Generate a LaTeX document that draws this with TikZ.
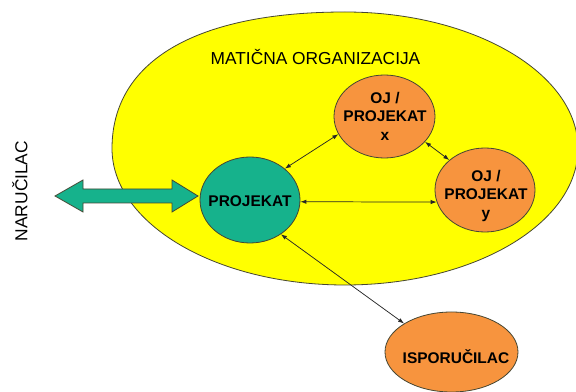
\documentclass[tikz,border=0pt]{standalone}
\usepackage{fontspec}
\setmainfont{Liberation Sans}
\usetikzlibrary{arrows.meta,shapes.geometric}
\definecolor{tealfill}{RGB}{22,178,140}
\definecolor{orangefill}{RGB}{247,148,62}
\definecolor{yellowfill}{RGB}{255,255,0}
\definecolor{outlinec}{RGB}{70,70,50}
\begin{document}
\begin{tikzpicture}[x=0.75pt,y=-0.75pt,
  outl/.style={draw=outlinec, line width=0.6pt},
  ell/.style={ellipse, outl, inner sep=0pt},
  tealell/.style={ell, fill=tealfill},
  orangeell/.style={ell, fill=orangefill},
  boldtxt/.style={font=\bfseries\fontsize{11.6}{13.8}\selectfont, align=center, inner sep=0pt},
  plaintxt/.style={font=\fontsize{13}{15}\selectfont, inner sep=0pt},
  conn/.style={draw=black!85, line width=0.55pt, {Latex[length=4.5pt,width=3.2pt]}-{Latex[length=4.5pt,width=3.2pt]}}
]
\useasboundingbox (0,0) rectangle (576,392);
\clip (0,0) rectangle (576,392);
\fill[white] (0,0) rectangle (576,392);
% parent organisation
\path[outl, fill=yellowfill]
  (112,148.5) .. controls (112,61.1) and (195.9,12) .. (345,12)
  .. controls (473.6,12) and (578,73.2) .. (578,148.5)
  .. controls (578,223.8) and (473.6,285) .. (345,285)
  .. controls (216.4,285) and (112,223.8) .. cycle;
\node[plaintxt] (mo) at (315.5,57) {MATIČNA ORGANIZACIJA};
\node[plaintxt, rotate=90] (nar) at (20,191) {NARUČILAC};
% block double arrow
\coordinate (bl) at (55,196);
\coordinate (br) at (198,196);
\path[draw=outlinec, line width=0.6pt, fill=tealfill]
  (bl) -- ++(28,-16) -- ++(0,9) -- ++(89,0) -- ++(0,-9) -- (br)
  -- ++(-26,16) -- ++(0,-9) -- ++(-89,0) -- ++(0,9) -- cycle;
% nodes
\node[tealell, minimum width=75pt, minimum height=64.5pt] (proj) at (250,200) {};
\node[boldtxt] at (250,201) {PROJEKAT};
\node[orangeell, minimum width=75.75pt, minimum height=62.25pt] (ojx) at (384.5,116.5) {};
\node[boldtxt] at (385,116) {OJ /\\PROJEKAT\\x};
\node[orangeell, minimum width=75pt, minimum height=63pt] (ojy) at (485,190) {};
\node[boldtxt] at (486,196) {OJ /\\PROJEKAT\\y};
\node[orangeell, minimum width=99.75pt, minimum height=60pt] (isp) at (451.5,352) {};
\node[boldtxt] at (456,357) {ISPORUČILAC};
% connectors
\draw[conn] (proj.42) -- (ojx.201.7);
\draw[conn] (ojx.-32) -- (ojy.140.6);
\draw[conn] (proj.-2.7) -- (ojy.194);
\draw[conn] (proj.-48.6) -- (isp.149);
\end{tikzpicture}
\end{document}
